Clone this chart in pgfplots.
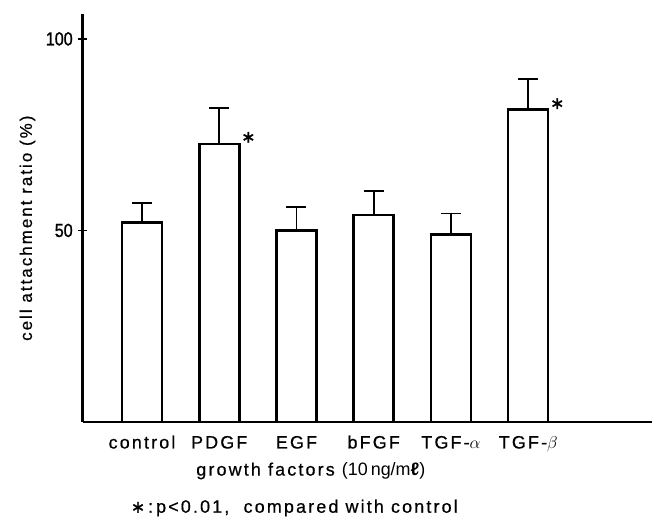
\documentclass[border=0pt]{standalone}
\usepackage{pgfplots}
\pgfplotsset{compat=1.18}
\usepackage{fontspec}
\setmainfont{Liberation Sans}
\newfontfamily\spaced[LetterSpace=12,FakeBold=0.6]{Liberation Sans}
\newfontfamily\narrowdig[FakeStretch=0.85,FakeBold=1.2]{Liberation Sans}
\newfontfamily\boldast[FakeBold=1.5]{DejaVu Sans}
\pgfplotstableread{
x y err
0 52.0 5.2
1 72.6 9.3
2 49.9 6.2
3 54.0 6.3
4 49.0 5.4
5 81.5 8.1
}\datatable
\begin{document}
\begin{tikzpicture}[x=1bp,y=1bp]
\path[use as bounding box] (-82.7,-98) rectangle (572.3,422);
\begin{axis}[
  scale only axis, width=569bp, height=408bp,
  xmin=-0.768, xmax=6.60, ymin=0, ymax=106.5,
  axis x line=bottom, axis y line=left,
  axis line style={line width=2.7bp,-},
  ytick={50,100},
  /pgf/number format/assume math mode=true,
  xtick={0,1,2,3,4,5},
  xticklabels={control,PDGF,EGF,bFGF,TGF-$\alpha$,TGF-$\beta$},
  xtick style={draw=none},
  ytick style={line width=1.6bp, black},
  tick align=center, major tick length=9bp,
  yticklabel style={font=\narrowdig\fontsize{19}{19}\selectfont, anchor=east, xshift=-2bp},
  xticklabel style={font=\spaced\fontsize{18}{18}\selectfont, anchor=base, yshift=-22bp},
  ylabel={\spaced cell attachment ratio (\%)},
  ylabel style={font=\fontsize{17}{17}\selectfont, at={(axis description cs:-0.097,0.475)}, anchor=center},
  xlabel={\spaced growth factors {\normalfont(10\,ng/m{\bfseries ℓ})}},
  xlabel style={font=\fontsize{18}{18}\selectfont, at={(axis description cs:0.401,-0.12)}, anchor=center},
  clip=false,
]
\addplot[ybar, bar width=40bp, fill=white, draw=black, line width=2.7bp,
  error bars/.cd, y dir=plus, y explicit,
  error bar style={line width=1.8bp},
  error mark options={rotate=90, mark size=10bp, line width=1.8bp}]
  table[x=x, y=y, y error=err] {\datatable};
\node[anchor=west, font=\boldast\fontsize{17}{17}\selectfont, inner sep=1bp] at (axis cs:1.27,74.3) {∗};
\node[anchor=west, font=\boldast\fontsize{17}{17}\selectfont, inner sep=1bp] at (axis cs:5.27,83.1) {∗};
\node[anchor=center, font=\spaced\fontsize{18}{18}\selectfont, inner sep=1bp] at (axis description cs:0.372,-0.211) {{\boldast\fontsize{17}{17}\selectfont ∗}\,:\,p<0.01,\ \ compared with control};
\end{axis}
\end{tikzpicture}
\end{document}
